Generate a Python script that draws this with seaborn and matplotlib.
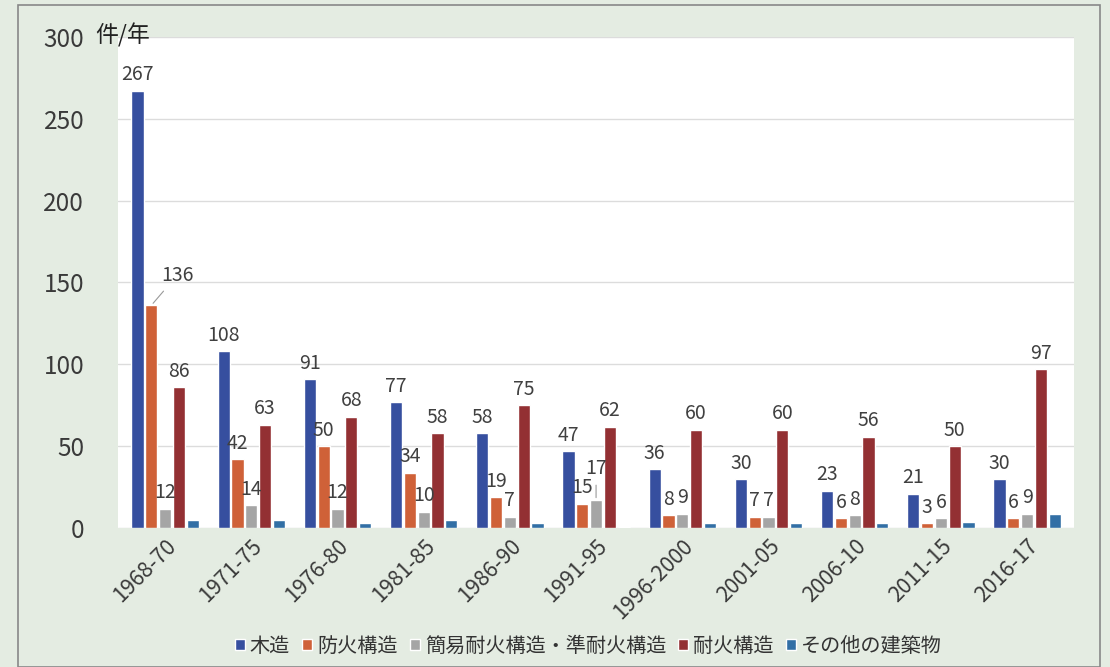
import numpy as np
import pandas as pd
import matplotlib
matplotlib.use("Agg")
import matplotlib.pyplot as plt
import seaborn as sns

periods = ["1968-70", "1971-75", "1976-80", "1981-85", "1986-90", "1991-95",
           "1996-2000", "2001-05", "2006-10", "2011-15", "2016-17"]
series_names = ["木造", "防火構造", "簡易耐火構造・準耐火構造", "耐火構造", "その他の建築物"]
wood = [267, 108, 91, 77, 58, 47, 36, 30, 23, 21, 30]
fireproof_struct = [136, 42, 50, 34, 19, 15, 8, 7, 6, 3, 6]
semi_fire = [12, 14, 12, 10, 7, 17, 9, 7, 8, 6, 9]
fire_resist = [86, 63, 68, 58, 75, 62, 60, 60, 56, 50, 97]
other = [5, 5, 3, 5, 3, 1, 3, 3, 3, 4, 9]
colors = ["#2546b0", "#e8561f", "#a5a5a5", "#a41f24", "#1f70b8"]

values = [wood, fireproof_struct, semi_fire, fire_resist, other]
rows = []
for name, vals in zip(series_names, values):
    for p, v in zip(periods, vals):
        rows.append({"period": p, "series": name, "count": v})
df = pd.DataFrame(rows)

sns.set_theme(style="white")
plt.rcParams["font.family"] = ["Noto Sans CJK JP", "DejaVu Sans"]

fig = plt.figure(figsize=(11.1, 6.67), dpi=100)
fig.patch.set_facecolor("#e4ece2")
ax = fig.add_axes([0.106, 0.208, 0.862, 0.737])
ax.set_facecolor("white")

sns.barplot(data=df, x="period", y="count", hue="series", palette=colors,
            width=0.8, gap=0.12, ax=ax, legend=True)

ax.set_ylim(0, 300)
ax.set_xlim(-0.55, 10.55)
ax.set_yticks(range(0, 301, 50))
ax.yaxis.grid(True, color="#dcdcdc", linewidth=1)
ax.set_axisbelow(True)
for s in ax.spines.values():
    s.set_visible(False)
ax.set_xlabel("")
ax.set_ylabel("")
ax.tick_params(axis="y", labelsize=17.5, colors="#3a3a3a", length=0, pad=24)
ax.tick_params(axis="x", labelsize=15.5, colors="#3a3a3a", length=0, pad=5)
plt.setp(ax.get_xticklabels(), rotation=45, ha="right", rotation_mode="anchor")

# value labels for first four series
for i, cont in enumerate(ax.containers[:4]):
    for j, bar in enumerate(cont):
        v = values[i][j]
        x = bar.get_x() + bar.get_width() / 2
        h = bar.get_height()
        if i == 1 and j == 0:
            ax.annotate(str(v), xy=(x, h), xytext=(x + 0.3, h + 12),
                        ha="center", va="bottom", fontsize=14, color="#404040",
                        arrowprops=dict(arrowstyle="-", color="#999999", lw=0.8))
        elif i == 2 and j == 5:
            ax.annotate(str(v), xy=(x, h), xytext=(x, h + 13),
                        ha="center", va="bottom", fontsize=14, color="#404040",
                        arrowprops=dict(arrowstyle="-", color="#999999", lw=0.8))
        else:
            ax.annotate(str(v), xy=(x, h), xytext=(0, 4), textcoords="offset points",
                        ha="center", va="bottom", fontsize=14, color="#404040")

fig.text(0.086, 0.947, "件/年", fontsize=16.5, color="#222222", va="center", ha="left")

handles, labels = ax.get_legend_handles_labels()
ax.get_legend().remove()
fig.legend(handles, labels, loc="center", bbox_to_anchor=(0.53, 0.031),
           ncol=5, frameon=False, fontsize=14.5, handlelength=0.5, handleheight=0.5,
           handletextpad=0.25, columnspacing=0.6, labelcolor="#333333")

fig.add_artist(plt.Rectangle((0.016, 0.0), 0.975, 0.993, transform=fig.transFigure,
                             fill=False, edgecolor="#888888", linewidth=1.2))

fig.savefig("out.png", dpi=100, facecolor=fig.get_facecolor())
